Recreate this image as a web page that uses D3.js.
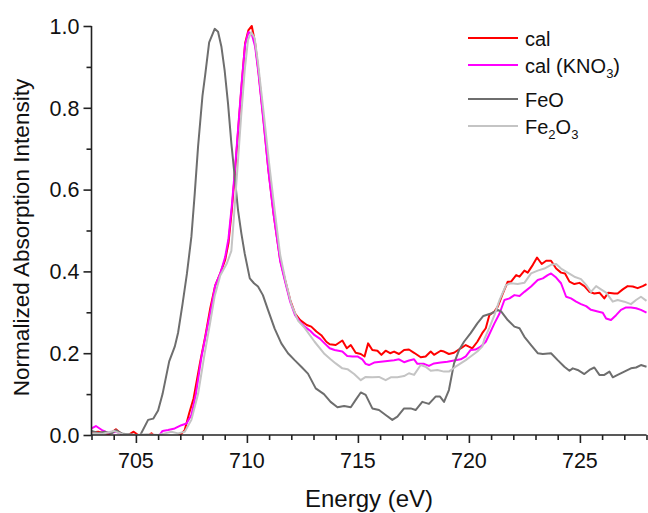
<!DOCTYPE html>
<html lang="en">
<head>
<meta charset="UTF-8">
<title>Fe L-edge XAS</title>
<script src="https://d3js.org/d3.v7.min.js"></script>
<style>
  body { margin: 0; background: #fff; }
  svg { display: block; font-family: "Liberation Sans", Arial, sans-serif; }
  .tick-label { font-size: 21.5px; fill: #111; }
  .axis-title { font-size: 24px; fill: #111; }
  .legend-text { font-size: 20px; fill: #111; }
</style>
</head>
<body>
<svg id="chart" width="648" height="513"></svg>
<script>
// --- data (energy in eV, normalized intensity) ---
const calEnergy = [703.0, 703.3, 703.6, 703.8, 704.1, 704.4, 704.65, 704.9, 705.1, 705.4, 705.7, 706.0, 706.5, 707.0, 707.2, 707.4, 707.6, 707.9, 708.12, 708.35, 708.57, 708.8, 709.02, 709.17, 709.32, 709.47, 709.62, 709.77, 709.92, 710.07, 710.22, 710.37, 710.52, 710.75, 710.97, 711.2, 711.5, 711.72, 711.95, 712.17, 712.4, 712.7, 712.9, 713.13, 713.35, 713.58, 713.73, 714.0, 714.3, 714.5, 714.68, 714.9, 715.13, 715.3, 715.46, 715.65, 715.88, 716.06, 716.25, 716.45, 716.63, 716.85, 717.08, 717.3, 717.53, 717.83, 718.05, 718.28, 718.43, 718.73, 718.88, 719.1, 719.33, 719.63, 719.86, 720.0, 720.15, 720.38, 720.6, 720.76, 720.92, 721.15, 721.3, 721.53, 721.75, 721.9, 722.13, 722.28, 722.5, 722.65, 722.88, 723.07, 723.28, 723.48, 723.7, 723.93, 724.15, 724.33, 724.53, 724.75, 724.98, 725.2, 725.43, 725.65, 725.88, 726.1, 726.28, 726.55, 726.7, 726.93, 727.15, 727.38, 727.6, 727.83, 728.0];
const calValues = [0.006, 0.008, 0.004, 0.002, 0.014, 0.0, 0.0, 0.008, 0.0, -0.006, 0.004, -0.01, -0.01, 0.0, 0.012, 0.053, 0.09, 0.18, 0.24, 0.31, 0.365, 0.395, 0.428, 0.469, 0.55, 0.648, 0.754, 0.86, 0.958, 0.99, 1.0, 0.958, 0.89, 0.77, 0.648, 0.542, 0.428, 0.379, 0.33, 0.297, 0.281, 0.269, 0.265, 0.253, 0.244, 0.228, 0.222, 0.22, 0.231, 0.212, 0.22, 0.201, 0.198, 0.192, 0.224, 0.208, 0.206, 0.196, 0.206, 0.2, 0.204, 0.198, 0.208, 0.209, 0.201, 0.19, 0.192, 0.204, 0.196, 0.206, 0.204, 0.198, 0.201, 0.212, 0.22, 0.216, 0.212, 0.228, 0.249, 0.261, 0.293, 0.302, 0.314, 0.346, 0.375, 0.375, 0.391, 0.387, 0.402, 0.397, 0.416, 0.434, 0.418, 0.426, 0.426, 0.407, 0.397, 0.395, 0.375, 0.369, 0.372, 0.364, 0.35, 0.346, 0.348, 0.334, 0.348, 0.346, 0.346, 0.356, 0.364, 0.363, 0.359, 0.364, 0.369];

const calKno3Energy = [703.0, 703.2, 703.5, 703.8, 704.1, 704.5, 704.8, 705.5, 706.0, 706.2, 706.45, 706.75, 707.05, 707.28, 707.5, 707.7, 707.95, 708.15, 708.4, 708.57, 708.8, 709.02, 709.17, 709.32, 709.47, 709.62, 709.77, 709.92, 710.07, 710.22, 710.37, 710.52, 710.75, 710.97, 711.2, 711.5, 711.72, 711.95, 712.17, 712.4, 712.6, 712.85, 713.05, 713.3, 713.5, 713.73, 713.95, 714.3, 714.52, 714.75, 714.98, 715.2, 715.35, 715.5, 715.73, 716.03, 716.33, 716.63, 716.85, 717.08, 717.3, 717.53, 717.68, 717.98, 718.2, 718.43, 718.73, 719.03, 719.33, 719.63, 719.86, 720.08, 720.3, 720.53, 720.76, 720.9, 721.15, 721.38, 721.6, 721.83, 722.05, 722.28, 722.5, 722.8, 723.1, 723.33, 723.55, 723.7, 723.93, 724.15, 724.38, 724.6, 724.83, 725.05, 725.28, 725.5, 725.8, 726.03, 726.18, 726.4, 726.63, 726.85, 727.08, 727.3, 727.53, 727.75, 728.0];
const calKno3Values = [0.016, 0.022, 0.011, 0.004, 0.008, 0.0, -0.01, -0.01, -0.005, 0.01, 0.012, 0.016, 0.024, 0.028, 0.049, 0.1, 0.19, 0.245, 0.314, 0.365, 0.395, 0.435, 0.48, 0.56, 0.655, 0.76, 0.865, 0.955, 0.985, 0.98, 0.95, 0.885, 0.765, 0.645, 0.54, 0.425, 0.375, 0.326, 0.293, 0.276, 0.265, 0.255, 0.244, 0.235, 0.224, 0.212, 0.208, 0.204, 0.193, 0.192, 0.192, 0.185, 0.174, 0.171, 0.177, 0.179, 0.181, 0.183, 0.185, 0.178, 0.182, 0.185, 0.174, 0.174, 0.169, 0.175, 0.177, 0.179, 0.182, 0.185, 0.192, 0.208, 0.209, 0.216, 0.228, 0.244, 0.273, 0.297, 0.33, 0.334, 0.342, 0.34, 0.35, 0.363, 0.379, 0.383, 0.391, 0.395, 0.385, 0.371, 0.338, 0.334, 0.326, 0.32, 0.315, 0.306, 0.302, 0.299, 0.285, 0.281, 0.293, 0.306, 0.312, 0.312, 0.31, 0.306, 0.299];

const feoEnergy = [703.0, 703.3, 703.6, 703.9, 704.1, 704.4, 704.7, 705.0, 705.2, 705.55, 705.78, 706.0, 706.2, 706.5, 706.75, 706.9, 707.1, 707.3, 707.5, 707.65, 707.8, 708.0, 708.12, 708.3, 708.55, 708.7, 708.85, 709.0, 709.15, 709.3, 709.45, 709.6, 709.75, 709.9, 710.13, 710.32, 710.5, 710.72, 710.95, 711.25, 711.55, 711.85, 712.15, 712.45, 712.75, 713.1, 713.47, 713.77, 714.08, 714.38, 714.68, 714.9, 715.13, 715.35, 715.65, 715.95, 716.25, 716.55, 716.78, 717.08, 717.38, 717.6, 717.9, 718.2, 718.5, 718.7, 718.88, 719.1, 719.33, 719.56, 719.78, 720.08, 720.38, 720.65, 721.0, 721.3, 721.45, 721.75, 722.05, 722.28, 722.5, 722.8, 723.1, 723.33, 723.7, 724.0, 724.3, 724.53, 724.68, 724.9, 725.2, 725.43, 725.65, 725.88, 726.1, 726.33, 726.48, 726.7, 727.0, 727.3, 727.53, 727.75, 728.0];
const feoValues = [0.01, 0.005, 0.008, 0.004, 0.012, 0.003, 0.002, 0.0, 0.0, 0.037, 0.04, 0.06, 0.1, 0.18, 0.216, 0.25, 0.32, 0.395, 0.485, 0.59, 0.705, 0.83, 0.88, 0.96, 0.993, 0.986, 0.95, 0.89, 0.81, 0.713, 0.632, 0.55, 0.493, 0.444, 0.383, 0.371, 0.363, 0.342, 0.306, 0.26, 0.224, 0.2, 0.183, 0.167, 0.15, 0.114, 0.1, 0.081, 0.068, 0.071, 0.068, 0.086, 0.104, 0.098, 0.065, 0.061, 0.049, 0.037, 0.045, 0.065, 0.065, 0.061, 0.081, 0.076, 0.094, 0.094, 0.081, 0.11, 0.175, 0.208, 0.228, 0.249, 0.273, 0.291, 0.297, 0.306, 0.302, 0.281, 0.265, 0.261, 0.24, 0.22, 0.2, 0.198, 0.2, 0.183, 0.167, 0.157, 0.163, 0.159, 0.149, 0.159, 0.165, 0.147, 0.147, 0.155, 0.141, 0.147, 0.155, 0.163, 0.165, 0.171, 0.167];

const fe2o3Energy = [703.0, 703.5, 704.0, 704.4, 705.0, 705.5, 706.0, 706.3, 706.6, 706.9, 707.2, 707.5, 707.8, 708.1, 708.33, 708.55, 708.8, 709.1, 709.3, 709.45, 709.6, 709.75, 709.9, 710.05, 710.2, 710.35, 710.5, 710.75, 711.0, 711.25, 711.5, 711.75, 712.0, 712.3, 712.6, 713.05, 713.5, 713.77, 714.0, 714.3, 714.53, 714.83, 715.13, 715.35, 715.65, 715.95, 716.25, 716.48, 716.78, 717.08, 717.3, 717.53, 717.83, 718.05, 718.28, 718.58, 718.88, 719.1, 719.4, 719.63, 719.86, 720.08, 720.38, 720.6, 720.7, 720.92, 721.15, 721.38, 721.68, 721.9, 722.2, 722.5, 722.8, 723.1, 723.4, 723.7, 723.93, 724.15, 724.45, 724.75, 725.05, 725.28, 725.5, 725.73, 725.95, 726.18, 726.48, 726.7, 727.0, 727.3, 727.53, 727.75, 728.0];
const fe2o3Values = [0.004, 0.003, 0.01, 0.002, 0.0, 0.002, 0.0, 0.004, 0.008, 0.004, 0.008, 0.037, 0.1, 0.2, 0.27, 0.34, 0.39, 0.42, 0.45, 0.558, 0.672, 0.786, 0.89, 0.966, 0.985, 0.97, 0.91, 0.79, 0.665, 0.55, 0.44, 0.375, 0.32, 0.28, 0.262, 0.228, 0.198, 0.185, 0.175, 0.163, 0.161, 0.149, 0.134, 0.142, 0.141, 0.142, 0.134, 0.141, 0.141, 0.144, 0.151, 0.147, 0.171, 0.167, 0.157, 0.159, 0.155, 0.155, 0.167, 0.175, 0.183, 0.192, 0.204, 0.216, 0.235, 0.262, 0.293, 0.33, 0.367, 0.371, 0.369, 0.372, 0.395, 0.402, 0.407, 0.416, 0.418, 0.407, 0.397, 0.387, 0.381, 0.367, 0.35, 0.364, 0.356, 0.348, 0.326, 0.33, 0.326, 0.32, 0.33, 0.338, 0.328];

const xTicks = [705, 710, 715, 720, 725];
const yTicks = [0.0, 0.2, 0.4, 0.6, 0.8, 1.0];

const series = [
  { name: "cal", energy: calEnergy, values: calValues, color: "#ff0000" },
  { name: "cal (KNO3)", energy: calKno3Energy, values: calKno3Values, color: "#ff00ff" },
  { name: "FeO", energy: feoEnergy, values: feoValues, color: "#6e6e6e" },
  { name: "Fe2O3", energy: fe2o3Energy, values: fe2o3Values, color: "#c4c4c4" }
];

// --- layout ---
const svg = d3.select("#chart");
const plotLeft = 91.5, plotRight = 646.5, plotTop = 26, plotBottom = 435;

const x = d3.scaleLinear().domain([703, 728]).range([plotLeft, plotRight]);
const y = d3.scaleLinear().domain([0, 1]).range([plotBottom, plotTop]);

svg.append("clipPath").attr("id", "plot-clip")
  .append("rect")
  .attr("x", plotLeft).attr("y", plotTop - 1)
  .attr("width", plotRight - plotLeft + 2).attr("height", plotBottom - plotTop + 1);

// curves
const line = d3.line().x(d => x(d[0])).y(d => y(d[1]));
const plot = svg.append("g").attr("clip-path", "url(#plot-clip)");
series.forEach(s => {
  plot.append("path")
    .datum(s.energy.map((e, i) => [e, s.values[i]]))
    .attr("d", line)
    .attr("fill", "none")
    .attr("stroke", s.color)
    .attr("stroke-width", 2)
    .attr("stroke-linejoin", "round");
});

// x axis
const xAxis = svg.append("g").attr("transform", `translate(0,${plotBottom})`);
xAxis.call(d3.axisBottom(x).tickValues(d3.range(703, 729, 1)).tickSize(5).tickFormat(""));
xAxis.selectAll(".tick").filter(d => xTicks.includes(d)).select("line").attr("y2", 8);
xAxis.selectAll(".tick text").remove();
xAxis.select(".domain").attr("d", `M${plotLeft},0H${plotRight}`);
xAxis.selectAll("line, path").attr("stroke", "#222").attr("stroke-width", 1.6);

svg.append("g").selectAll("text").data(xTicks).join("text")
  .attr("class", "tick-label")
  .attr("x", d => x(d)).attr("y", 468)
  .attr("text-anchor", "middle")
  .text(d => d);

// y axis
const yAxis = svg.append("g").attr("transform", `translate(${plotLeft},0)`);
yAxis.call(d3.axisLeft(y).tickValues(d3.range(0, 11).map(i => i / 10)).tickSize(5).tickFormat(""));
yAxis.selectAll(".tick").filter((d, i) => i % 2 === 0).select("line").attr("x2", -8);
yAxis.selectAll(".tick text").remove();
yAxis.select(".domain").attr("d", `M0,${plotTop}V${plotBottom}`);
yAxis.selectAll("line, path").attr("stroke", "#222").attr("stroke-width", 1.6);

svg.append("g").selectAll("text").data(yTicks).join("text")
  .attr("class", "tick-label")
  .attr("x", plotLeft - 12).attr("y", d => y(d))
  .attr("dy", "0.36em")
  .attr("text-anchor", "end")
  .text(d => d.toFixed(1));

// axis titles
svg.append("text").attr("class", "axis-title")
  .attr("x", (plotLeft + plotRight) / 2).attr("y", 507)
  .attr("text-anchor", "middle")
  .text("Energy (eV)");

svg.append("text").attr("class", "axis-title")
  .attr("transform", `translate(29,${(plotTop + plotBottom) / 2 + 7}) rotate(-90)`)
  .attr("text-anchor", "middle")
  .style("font-size", "22.6px")
  .text("Normalized Absorption Intensity");

// legend
const legendY = [38, 65, 99, 126];
const legend = svg.append("g");
series.forEach((s, i) => {
  const g = legend.append("g").attr("transform", `translate(468,${legendY[i]})`);
  g.append("line").attr("x1", 0).attr("x2", 50)
    .attr("stroke", s.color).attr("stroke-width", 1.8);
  const t = g.append("text").attr("class", "legend-text").attr("x", 57).attr("y", 7.5);
  // digits in the names are chemical subscripts
  let shift = 0;
  s.name.split(/(\d)/).filter(p => p !== "").forEach(part => {
    const sub = /\d/.test(part);
    const dy = (sub ? 5 : 0) - shift;
    shift = sub ? 5 : 0;
    t.append("tspan")
      .attr("dy", dy)
      .attr("font-size", sub ? "13px" : null)
      .text(part);
  });
});
</script>
</body>
</html>
